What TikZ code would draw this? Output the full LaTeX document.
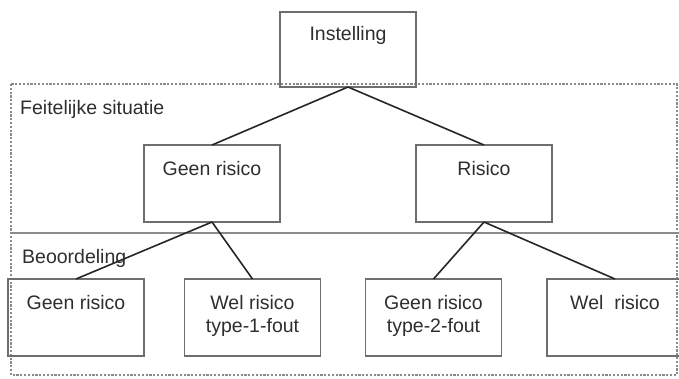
\documentclass[tikz,border=0pt]{standalone}
\usepackage{fontspec}
\setmainfont{Liberation Sans}
\usetikzlibrary{calc}
\definecolor{boxgray}{HTML}{6E6E6E}
\definecolor{txtgray}{HTML}{2E2E2E}
\definecolor{dashgray}{HTML}{8A8A8A}
\tikzset{
  box/.style={draw=boxgray, line width=1.4pt, minimum width=136pt, minimum height=77pt, inner sep=0pt, outer sep=0pt},
  txt/.style={text=txtgray, font=\fontsize{19.5}{23}\selectfont, inner sep=0pt, anchor=base, align=center},
  txttwo/.style={txt, anchor=north},
  conn/.style={draw=black!85, line width=1.6pt},
  frame/.style={draw=dashgray, line width=1.4pt, dash pattern=on 2.2pt off 1.6pt},
  sep/.style={draw=boxgray!80, line width=1.4pt}
}
\begin{document}
\begin{tikzpicture}[x=1pt,y=-1pt]
\useasboundingbox (0,0) rectangle (679,378);
% dashed frame
\draw[frame] (11,84) rectangle (677,375);
\coordinate (sepL) at (11,233);
\coordinate (sepR) at (679,233);
\draw[sep] (sepL) -- (sepR);
\node[txt, anchor=base west] (feit) at (20,114) {Feitelijke situatie};
\node[txt, anchor=base west] (beo) at (22,263) {Beoordeling};
% boxes
\node[box, minimum height=75pt] (ins) at (348,49.5) {};
\node[box] (mgr) at (212,183.5) {};
\node[box] (mri) at (484,183.5) {};
\node[box] (bgr) at (76,317.5) {};
\node[box] (bw1) at (252.5,317.5) {};
\node[box] (bg2) at (433.5,317.5) {};
\node[box] (bw) at (615,317.5) {};
% texts
\node[txt] (insT) at (348,40) {Instelling};
\node[txt] (mgrT) at (212,175) {Geen risico};
\node[txt] (mriT) at (484,175) {Risico};
\node[txt] (bgrT) at (76,309) {Geen risico};
\node[txttwo] (bw1T) at (252.5,294.7) {Wel risico\\type-1-fout};
\node[txttwo] (bg2T) at (433.5,294.7) {Geen risico\\type-2-fout};
\node[txt] (bwT) at (615,309) {Wel\ \ risico};
% connectors
\draw[conn] (ins.south) -- (mgr.north);
\draw[conn] (ins.south) -- (mri.north);
\draw[conn] (mgr.south) -- (bgr.north);
\draw[conn] (mgr.south) -- (bw1.north);
\draw[conn] (mri.south) -- (bg2.north);
\draw[conn] (mri.south) -- (bw.north);
\end{tikzpicture}
\end{document}
